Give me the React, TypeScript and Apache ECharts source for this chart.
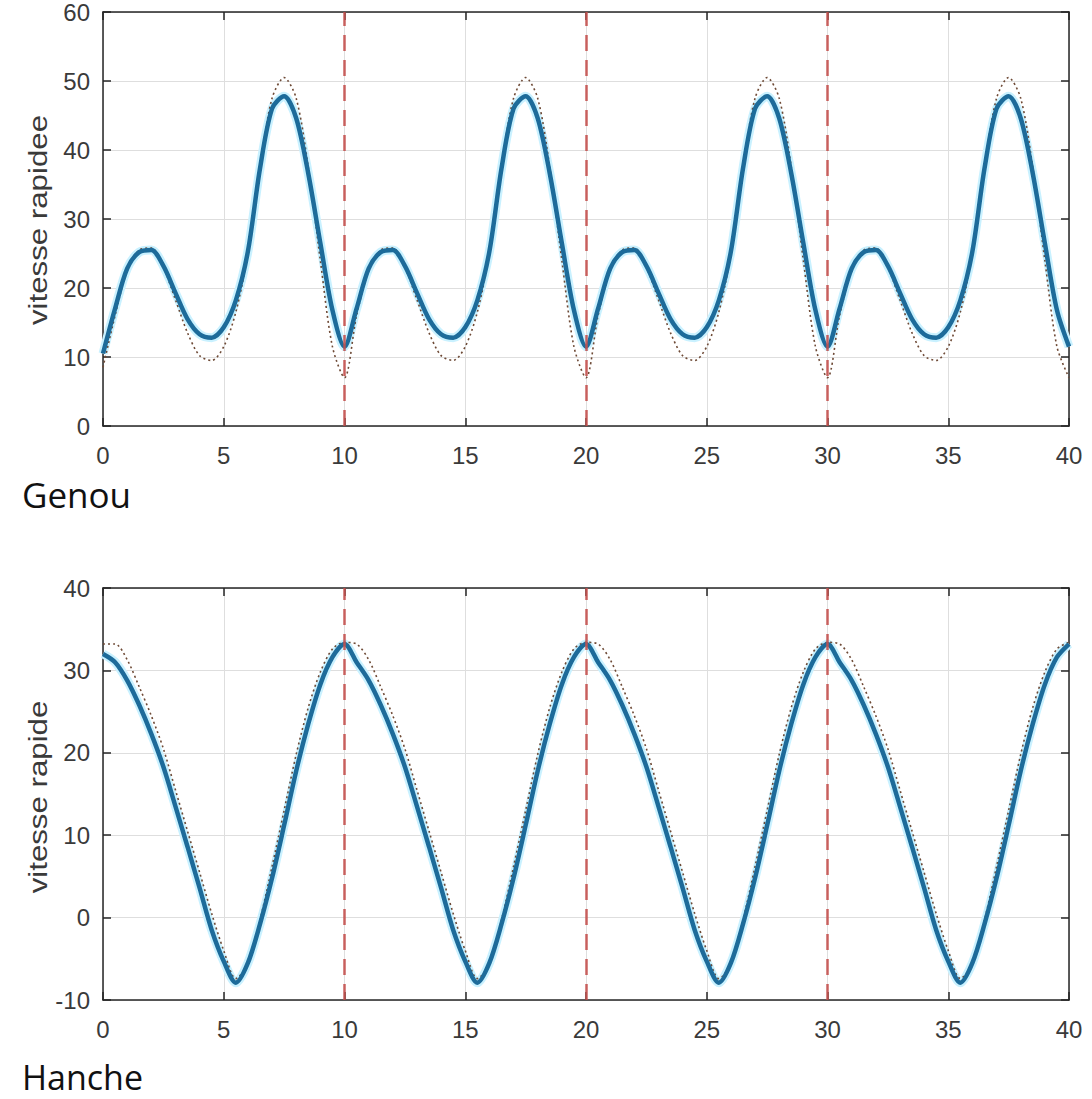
import React, { useEffect, useRef } from "react";
import * as echarts from "echarts";

// one gait cycle, sampled every 0.5 s (x offset within a cycle)
const CYCLE_X = [0, 0.5, 1, 1.5, 2, 2.5, 3, 3.5, 4, 4.5, 5, 5.5, 6, 6.5, 7, 7.5, 8, 8.5, 9, 9.5, 10];
const CYCLE_STARTS = [0, 10, 20, 30];
const MARKER_X = [10, 20, 30];

// Genou (knee) – measured (blue) and reference (dotted)
const GENOU_BLUE = [10.5, 17, 22.8, 25.2, 25.5, 23.2, 19.3, 15.5, 13.3, 12.8, 14.3, 18.2, 25.3, 37.3, 46, 47.8, 44.6, 36.6, 26.5, 16.8, 11.5];
const GENOU_DOT = [8.5, 16, 22.5, 25.5, 25.8, 23, 18.3, 13.5, 10.2, 9.5, 11.5, 16.5, 25, 37.5, 47.5, 50.5, 47.5, 37.5, 24, 11.5, 7];

// Hanche (hip)
const HANCHE_BLUE = [32, 31, 28.8, 25.8, 22.3, 18.3, 13.5, 8.6, 3.6, -1.5, -5.3, -7.9, -5.5, -0.8, 4.8, 11.2, 17.8, 23.5, 28.3, 31.6, 33.2];
const HANCHE_DOT = [33.2, 33.2, 31.3, 28, 24.5, 20.5, 15.5, 10.5, 5.5, 0.5, -4, -7.4, -5.6, -0.3, 6.2, 13, 19.8, 25.5, 29.8, 32.6, 33.4];

const GENOU_Y = { min: 0, max: 60, interval: 10 };
const HANCHE_Y = { min: -10, max: 40, interval: 10 };
const X_AXIS = { min: 0, max: 40, interval: 5 };

function tile(vals: number[]) {
  const out: number[][] = [];
  CYCLE_STARTS.forEach((s, ci) => {
    vals.forEach((v, i) => {
      if (i === 0 && ci > 0) return; // cycle join: keep previous cycle's end point
      out.push([s + CYCLE_X[i], v]);
    });
  });
  return out;
}

const FONT = "Liberation Sans, Arial, sans-serif";
const LABEL_COLOR = "#3a3a3a";
const AXIS_COLOR = "#262626";

function makeAxes(gridIndex: number, yRange: { min: number; max: number; interval: number }) {
  const xAxes = [
    {
      type: "value", gridIndex, position: "bottom", ...X_AXIS,
      axisLine: { show: true, onZero: false, lineStyle: { color: AXIS_COLOR, width: 1.5 } },
      axisTick: { show: true, inside: true, length: 8, lineStyle: { color: AXIS_COLOR, width: 1.5 } },
      axisLabel: { color: LABEL_COLOR, fontSize: 24, fontFamily: FONT, margin: 17 },
      splitLine: { show: true, lineStyle: { color: "#dedede", width: 1 } },
    },
    {
      type: "value", gridIndex, position: "top", ...X_AXIS,
      axisLine: { show: true, onZero: false, lineStyle: { color: AXIS_COLOR, width: 1.5 } },
      axisTick: { show: true, inside: true, length: 8, lineStyle: { color: AXIS_COLOR, width: 1.5 } },
      axisLabel: { show: false },
      splitLine: { show: false },
    },
  ];
  const yAxes = [
    {
      type: "value", gridIndex, position: "left", ...yRange,
      axisLine: { show: true, onZero: false, lineStyle: { color: AXIS_COLOR, width: 1.5 } },
      axisTick: { show: true, inside: true, length: 8, lineStyle: { color: AXIS_COLOR, width: 1.5 } },
      axisLabel: { color: LABEL_COLOR, fontSize: 24, fontFamily: FONT, margin: 13 },
      splitLine: { show: true, lineStyle: { color: "#dedede", width: 1 } },
    },
    {
      type: "value", gridIndex, position: "right", ...yRange,
      axisLine: { show: true, onZero: false, lineStyle: { color: AXIS_COLOR, width: 1.5 } },
      axisTick: { show: true, inside: true, length: 8, lineStyle: { color: AXIS_COLOR, width: 1.5 } },
      axisLabel: { show: false },
      splitLine: { show: false },
    },
  ];
  return { xAxes, yAxes };
}

function seriesFor(axisBase: number, blue: number[], dot: number[], name: string) {
  return [
    {
      name: name + " halo", type: "line", xAxisIndex: axisBase, yAxisIndex: axisBase,
      data: tile(blue), showSymbol: false, smooth: 0.3, silent: true,
      lineStyle: { color: "#c9f1ff", width: 9 }, z: 2,
    },
    {
      name: name + " référence", type: "line", xAxisIndex: axisBase, yAxisIndex: axisBase,
      data: tile(dot), showSymbol: false, smooth: 0.3,
      lineStyle: { color: "#6e4a36", width: 1.6, type: [2, 3] }, z: 3,
    },
    {
      name: name, type: "line", xAxisIndex: axisBase, yAxisIndex: axisBase,
      data: tile(blue), showSymbol: false, smooth: 0.3,
      lineStyle: { color: "#1d6b9a", width: 4.5 }, z: 4,
      markLine: {
        silent: true, symbol: "none", animation: false,
        label: { show: false },
        lineStyle: { color: "#c4514f", width: 2.5, type: [16, 9], opacity: 0.9 },
        data: MARKER_X.map((x) => ({ xAxis: x })),
      },
    },
  ];
}

function yTitle(text: string, cy: number) {
  return {
    type: "text", x: 38, y: cy, rotation: Math.PI / 2, scaleX: 1.25,
    style: { text, fontSize: 25, fontFamily: FONT, fill: LABEL_COLOR, align: "center", verticalAlign: "middle" },
  };
}

export default function App() {
  const ref = useRef<HTMLDivElement>(null);
  useEffect(() => {
    if (!ref.current) return;
    const chart = echarts.init(ref.current, undefined, { renderer: "svg" });
    const top = makeAxes(0, GENOU_Y);
    const bot = makeAxes(1, HANCHE_Y);
    chart.setOption({
      animation: false,
      backgroundColor: "#ffffff",
      grid: [
        { left: 103, top: 12, width: 966, height: 414 },
        { left: 103, top: 588, width: 966, height: 412 },
      ],
      xAxis: [...top.xAxes, ...bot.xAxes],
      yAxis: [...top.yAxes, ...bot.yAxes],
      series: [...seriesFor(0, GENOU_BLUE, GENOU_DOT, "Genou"), ...seriesFor(2, HANCHE_BLUE, HANCHE_DOT, "Hanche")],
      graphic: [
        yTitle("vitesse rapidee", 220),
        yTitle("vitesse rapide", 797),
        { type: "text", x: 22, y: 494, style: { text: "Genou", fontSize: 35, fontFamily: "Open Sans, Noto Sans, sans-serif", fill: "#111", verticalAlign: "middle" } },
        { type: "text", x: 22, y: 1077, style: { text: "Hanche", fontSize: 34, fontFamily: "Open Sans, Noto Sans, sans-serif", fill: "#111", verticalAlign: "middle" } },
      ],
    });
    return () => chart.dispose();
  }, []);
  return <div ref={ref} style={{ position: "fixed", left: 0, top: 0, width: 1092, height: 1099, background: "#fff" }} />;
}
